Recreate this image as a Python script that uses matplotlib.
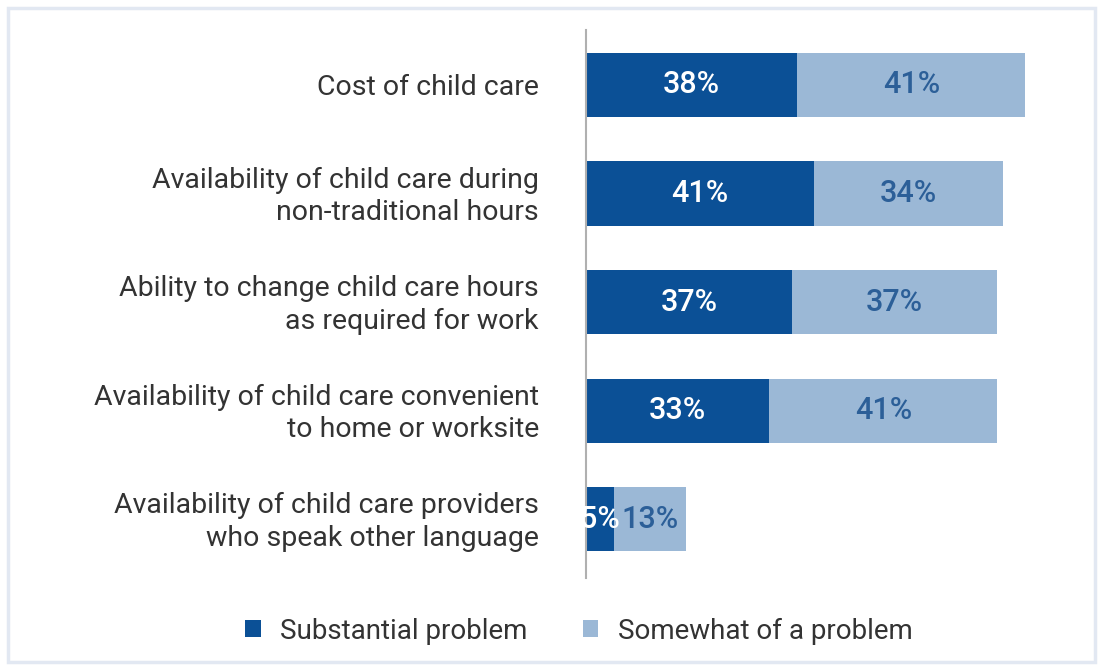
import matplotlib
matplotlib.use("Agg")
import matplotlib.pyplot as plt
from matplotlib.patches import Rectangle
from matplotlib.transforms import ScaledTranslation

categories = [
    "Cost of child care",
    "Availability of child care during\nnon-traditional hours",
    "Ability to change child care hours\nas required for work",
    "Availability of child care convenient\nto home or worksite",
    "Availability of child care providers\nwho speak other language",
]
substantial = [38, 41, 37, 33, 5]
somewhat = [41, 34, 37, 41, 13]
series_names = ["Substantial problem", "Somewhat of a problem"]

dark = "#0B5096"
light = "#9BB8D6"
light_text = "#2C5F98"
text_color = "#333333"

plt.rcParams['font.family'] = ['Roboto', 'DejaVu Sans']

fig = plt.figure(figsize=(11.03, 6.70), dpi=100)
fig.patches.append(Rectangle((8/1103, 8/670), 1-16/1103, 1-16/670, transform=fig.transFigure,
                             fill=False, edgecolor="#E2E8F2", linewidth=2.5, zorder=0))
ax = fig.add_axes([586/1103, 1-578/670, 494/1103, 548/670])

y = list(range(len(categories)))
h = 0.59
ax.barh(y, substantial, height=h, color=dark, label=series_names[0])
ax.barh(y, somewhat, left=substantial, height=h, color=light, label=series_names[1])

for i in y:
    ax.text(substantial[i] / 2, i, f"{substantial[i]}%", ha="center", va="center",
            color="white", fontsize=22, fontweight="medium")
    ax.text(substantial[i] + somewhat[i] / 2, i, f"{somewhat[i]}%", ha="center", va="center",
            color=light_text, fontsize=22, fontweight="medium")

ax.set_xlim(0, 494 / 5.56)
ax.set_ylim(4.54, -0.505)
ax.set_yticks(y)
ax.set_yticklabels(categories, fontsize=20.5, color=text_color, linespacing=1.27)
ax.tick_params(axis="y", length=0, pad=34)
shift = ScaledTranslation(0, 3 / 100, fig.dpi_scale_trans)
for lbl, cat in zip(ax.get_yticklabels(), categories):
    if "\n" in cat:
        lbl.set_transform(lbl.get_transform() + shift)
ax.set_xticks([])
for s in ["top", "right", "bottom"]:
    ax.spines[s].set_visible(False)
ax.spines["left"].set_color("#B0B0B0")
ax.spines["left"].set_linewidth(1.5)
ax.set_facecolor("none")

fig.legend(handles=ax.get_legend_handles_labels()[0], labels=series_names,
           loc="center", bbox_to_anchor=(579/1103, 1-631/670), ncol=2, frameon=False,
           fontsize=20, handlelength=0.55, handleheight=0.55, handletextpad=0.7,
           columnspacing=2.0, labelcolor=text_color)

fig.savefig("out.png", dpi=100)
